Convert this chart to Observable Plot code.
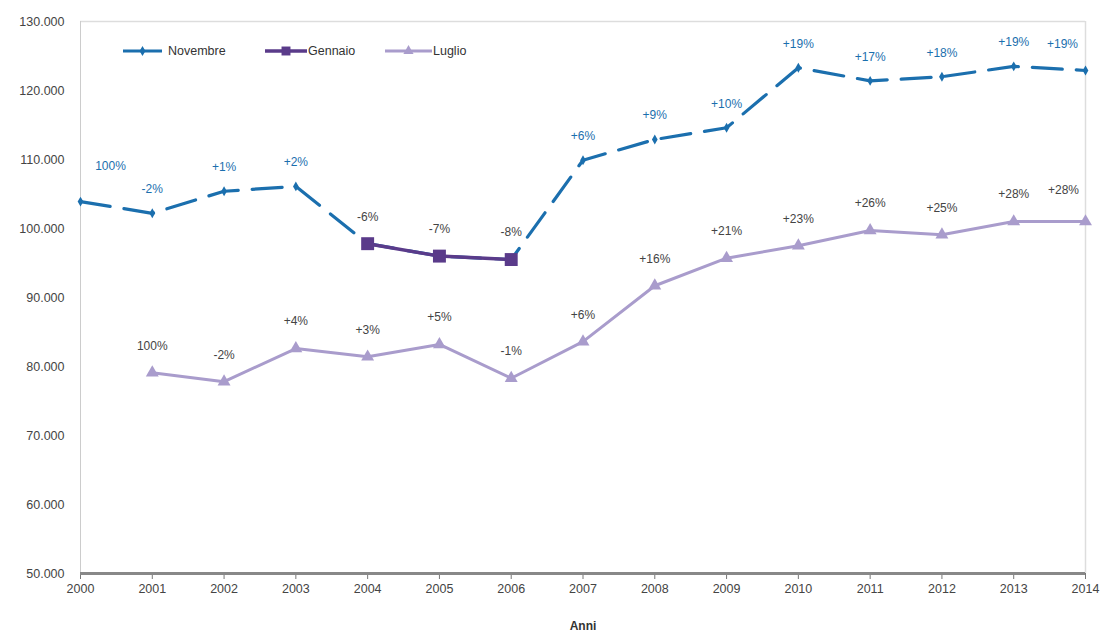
<!DOCTYPE html>
<html><head><meta charset="utf-8">
<script src="https://cdn.jsdelivr.net/npm/d3@7"></script>
<script src="https://cdn.jsdelivr.net/npm/@observablehq/plot@0.6"></script>
<style>
body{margin:0;background:#fff;font-family:"Liberation Sans",Arial,sans-serif;}
#wrap{position:relative;width:1100px;height:637px;}
#legend{position:absolute;left:0;top:0;pointer-events:none;}
</style></head>
<body><div id="wrap"><div id="chart"></div><svg id="legend" width="600" height="80"></svg></div>
<script>
// ---- data ----
const years = [2000,2001,2002,2003,2004,2005,2006,2007,2008,2009,2010,2011,2012,2013,2014];
const yTicks = [50000,60000,70000,80000,90000,100000,110000,120000,130000];
const novembre = [103900,102200,105400,106100,null,null,null,109900,112900,114600,123300,121400,122000,123500,122900];
const novLabels = ["100%","-2%","+1%","+2%",null,null,null,"+6%","+9%","+10%","+19%","+17%","+18%","+19%","+19%"];
const gennaioYears = [2004,2005,2006];
const gennaio = [97800,96000,95500];
const genLabels = ["-6%","-7%","-8%"];
const luglioYears = [2001,2002,2003,2004,2005,2006,2007,2008,2009,2010,2011,2012,2013,2014];
const luglio = [79100,77800,82600,81400,83200,78300,83600,91700,95700,97500,99700,99100,101000,101000];
const lugLabels = ["100%","-2%","+4%","+3%","+5%","-1%","+6%","+16%","+21%","+23%","+26%","+25%","+28%","+28%"];
const seriesNames = ["Novembre","Gennaio","Luglio"];

const NOV = "#1b6fae", GEN = "#5a3b8a", LUG = "#a99ccc", LBL = "#444";

const itLocale = d3.formatLocale({decimal:",", thousands:".", grouping:[3], currency:["€",""]});
const fmt = itLocale.format(",");

const novData = years.map((y,i)=>({year:y,value:novembre[i],label:novLabels[i]})).filter(d=>d.value!=null);
const genData = gennaioYears.map((y,i)=>({year:y,value:gennaio[i],label:genLabels[i]}));
const lugData = luglioYears.map((y,i)=>({year:y,value:luglio[i],label:lugLabels[i]}));
const novPath = [...novData, ...genData].sort((a,b)=>a.year-b.year);

const font = "Liberation Sans, Arial, sans-serif";
const mid = d => d.year > 2000 && d.year < 2014;

const chart = Plot.plot({
  width:1100, height:637,
  marginLeft:80, marginRight:15, marginTop:21, marginBottom:64,
  style:{fontFamily:font, fontSize:"12px", color:"#444", background:"#fff"},
  x:{domain:[2000,2014]},
  y:{domain:[50000,130000]},
  marks:[
    Plot.ruleY([130000],{stroke:"#ddd",strokeWidth:1.5}),
    Plot.ruleX([2014],{stroke:"#ddd",strokeWidth:1.5}),
    Plot.ruleX([2000],{stroke:"#ccc",strokeWidth:1}),
    Plot.axisY({ticks:yTicks, tickFormat:fmt, tickSize:0, tickPadding:16, label:null, fontSize:12.5}),
    Plot.axisX({ticks:years, tickFormat:d=>String(d), tickSize:6, tickPadding:5, label:null, fontSize:12.5, stroke:"#777"}),
    Plot.ruleY([50000],{stroke:"#888",strokeWidth:3}),
    Plot.line(novPath,{x:"year",y:"value",stroke:NOV,strokeWidth:3.2,strokeDasharray:"30,14"}),
    Plot.line(genData,{x:"year",y:"value",stroke:GEN,strokeWidth:3.5}),
    Plot.line(lugData,{x:"year",y:"value",stroke:LUG,strokeWidth:3}),
    Plot.dot(novData,{x:"year",y:"value",symbol:"diamond",r:3,fill:NOV}),
    Plot.dot(genData,{x:"year",y:"value",symbol:"square",r:7.3,fill:GEN}),
    Plot.dot(lugData,{x:"year",y:"value",symbol:"triangle",r:4.8,fill:LUG}),
    Plot.text(novData,{filter:mid,x:"year",y:"value",text:"label",dy:-24,fill:NOV,fontSize:12}),
    Plot.text(novData,{filter:d=>d.year===2000,x:"year",y:"value",text:"label",dx:30,dy:-35,fill:NOV,fontSize:12}),
    Plot.text(novData,{filter:d=>d.year===2014,x:"year",y:"value",text:"label",dx:-23,dy:-26,fill:NOV,fontSize:12}),
    Plot.text(genData,{x:"year",y:"value",text:"label",dy:-27,fill:LBL,fontSize:12}),
    Plot.text(lugData,{filter:d=>d.year<2014,x:"year",y:"value",text:"label",dy:-27,fill:LBL,fontSize:12}),
    Plot.text(lugData,{filter:d=>d.year===2014,x:"year",y:"value",text:"label",dx:-22,dy:-31,fill:LBL,fontSize:12}),
    Plot.text(["Anni"],{frameAnchor:"bottom",dy:56,fontWeight:"bold",fill:"#333",fontSize:12})
  ]
});
document.getElementById("chart").append(chart);

// ---- legend (overlay inside plot area) ----
const lg = d3.select("#legend");
const items = [
  {name:seriesNames[0], color:NOV, x1:123, x2:162, tx:168, sym:d3.symbolDiamond, size:30, w:3},
  {name:seriesNames[1], color:GEN, x1:265, x2:307, tx:308, sym:d3.symbolSquare, size:80, w:3.5},
  {name:seriesNames[2], color:LUG, x1:385, x2:432, tx:433, sym:d3.symbolTriangle, size:45, w:3}
];
const ly = 51;
items.forEach(it=>{
  lg.append("line").attr("x1",it.x1).attr("x2",it.x2).attr("y1",ly).attr("y2",ly)
    .attr("stroke",it.color).attr("stroke-width",it.w);
  lg.append("path").attr("d",d3.symbol(it.sym,it.size)()).attr("fill",it.color)
    .attr("transform",`translate(${(it.x1+it.x2)/2},${ly})`);
  lg.append("text").attr("x",it.tx).attr("y",ly).attr("dy","0.35em").attr("fill","#333")
    .style("font-family",font).style("font-size","12.5px").text(it.name);
});
</script></body></html>
